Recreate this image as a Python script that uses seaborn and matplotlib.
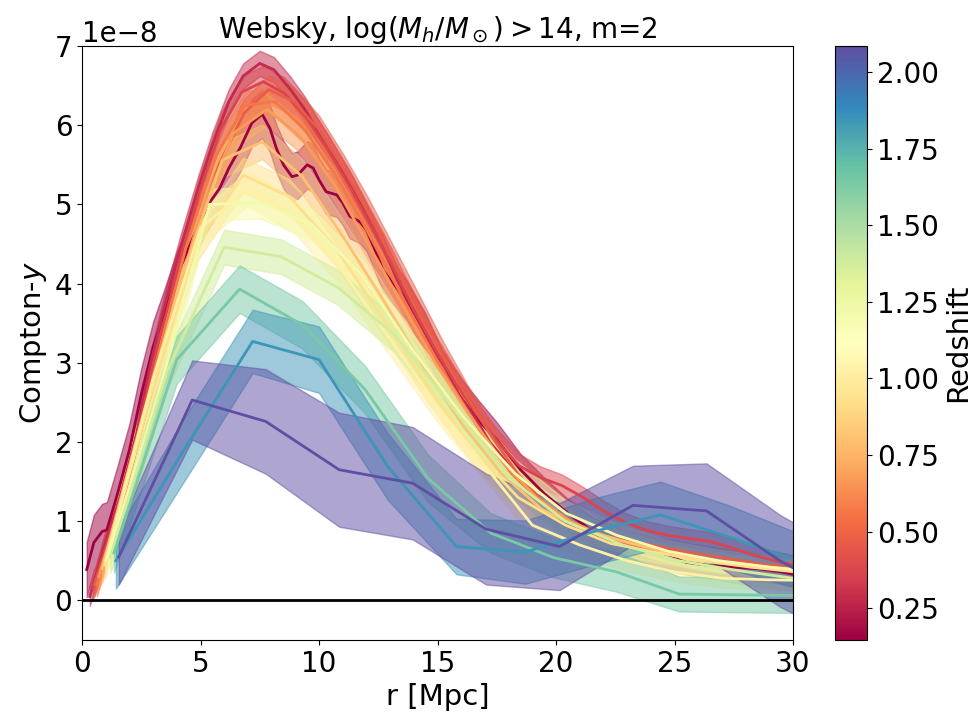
import numpy as np
import pandas as pd
import matplotlib
matplotlib.use("Agg")
import matplotlib.pyplot as plt
import seaborn as sns

# Redshift of each stacked profile
redshifts = [0.15, 0.28, 0.37, 0.47, 0.57, 0.67, 0.80, 0.92, 1.02, 1.20, 1.38, 1.64, 1.85, 2.08]

# r [Mpc], Compton-y (units of 1e-8), half-width of the shaded band (1e-8)
x_z015 = [0.2, 0.5, 0.85, 1.05, 1.5, 2.0, 2.5, 3.0, 3.5, 4.0, 4.5, 5.0, 5.4, 5.8, 6.2, 6.67, 7.17, 7.6,
          7.93, 8.2, 8.5, 8.86, 9.1, 9.5, 9.75, 10.0, 10.3, 10.75, 11.0, 11.3, 11.73, 12.0, 12.3, 12.7,
          13.0, 13.7, 14.5, 15.2, 16.0, 16.8, 17.5, 18.5, 19.5, 20.5, 21.5, 22.5, 23.5, 24.5, 25.5,
          26.5, 27.5, 28.5, 29.5, 30.0]
y_z015 = [0.39, 0.73, 0.87, 0.89, 1.35, 1.9, 2.6, 3.2, 3.65, 4.1, 4.45, 4.8, 5.03, 5.2, 5.46, 5.71,
          6.03, 6.14, 5.96, 5.71, 5.5, 5.35, 5.37, 5.5, 5.46, 5.31, 5.16, 5.12, 5.02, 4.85, 4.78, 4.68,
          4.47, 4.17, 4.05, 3.79, 3.37, 2.91, 2.55, 2.25, 2.03, 1.65, 1.35, 1.1, 0.88, 0.74, 0.65, 0.58,
          0.48, 0.44, 0.42, 0.4, 0.36, 0.33]
e_z015 = [0.35, 0.35, 0.35, 0.35, 0.35, 0.33, 0.33, 0.32, 0.3, 0.3, 0.3, 0.3, 0.3, 0.3, 0.3, 0.3,
          0.3, 0.3, 0.3, 0.3, 0.3, 0.3, 0.3, 0.3, 0.3, 0.28, 0.28, 0.28, 0.28, 0.28, 0.27, 0.27, 0.27,
          0.27, 0.27, 0.25, 0.25, 0.25, 0.25, 0.25, 0.22, 0.2, 0.2, 0.18, 0.18, 0.16, 0.16, 0.16, 0.15,
          0.15, 0.15, 0.15, 0.15, 0.15]

x_z028 = [0.33, 1.0, 1.6, 2.3, 2.9, 3.6, 4.2, 4.9, 5.5, 6.2, 6.8, 7.5, 8.1, 8.8, 9.4, 10.1, 10.7,
          11.4, 12.0, 12.7, 13.3, 14.0, 14.6, 15.3, 15.9, 16.6, 17.2, 17.9, 18.5, 19.2, 19.8, 20.5,
          21.8, 23.1, 24.4, 25.7, 27.0, 28.3, 29.6, 30.2]
y_z028 = [0.05, 0.75, 1.3, 2.1, 3.0, 3.85, 4.5, 5.2, 5.75, 6.3, 6.62, 6.78, 6.7, 6.45, 6.2, 5.85,
          5.55, 5.2, 4.85, 4.45, 4.05, 3.65, 3.3, 2.95, 2.6, 2.3, 2.0, 1.75, 1.5, 1.3, 1.15, 1.0, 0.82,
          0.7, 0.62, 0.55, 0.48, 0.42, 0.38, 0.36]
e_z028 = [0.12, 0.14, 0.15, 0.15, 0.15, 0.16, 0.16, 0.16, 0.16, 0.16, 0.16, 0.16, 0.16, 0.16, 0.16,
          0.16, 0.16, 0.16, 0.16, 0.16, 0.16, 0.16, 0.15, 0.15, 0.15, 0.14, 0.14, 0.13, 0.13, 0.12,
          0.12, 0.12, 0.11, 0.11, 0.1, 0.1, 0.1, 0.1, 0.1, 0.1]

x_z037 = [0.45, 1.35, 2.25, 3.15, 4.05, 4.95, 5.85, 6.75, 7.65, 8.55, 9.45, 10.35, 11.25, 12.15,
          13.05, 13.95, 14.85, 15.75, 16.65, 17.55, 18.45, 19.35, 20.25, 21.15, 22.05, 22.95, 23.85,
          24.75, 25.65, 26.55, 27.45, 28.35, 29.25, 30.15]
y_z037 = [0.15, 1.0, 2.0, 3.15, 4.2, 5.15, 5.95, 6.42, 6.55, 6.4, 6.1, 5.7, 5.25, 4.75, 4.25, 3.7,
          3.2, 2.75, 2.35, 2.0, 1.7, 1.55, 1.45, 1.3, 1.12, 0.98, 0.88, 0.82, 0.78, 0.74, 0.66, 0.57,
          0.5, 0.44]
e_z037 = [0.15, 0.15, 0.18, 0.2, 0.2, 0.2, 0.2, 0.2, 0.2, 0.2, 0.2, 0.2, 0.2, 0.2, 0.2, 0.2, 0.18,
          0.18, 0.16, 0.15, 0.15, 0.14, 0.14, 0.13, 0.13, 0.12, 0.12, 0.12, 0.12, 0.12, 0.12, 0.12,
          0.12, 0.12]

x_z047 = [0.53, 1.58, 2.63, 3.68, 4.73, 5.78, 6.83, 7.88, 8.93, 9.98, 11.03, 12.08, 13.13, 14.18,
          15.23, 16.28, 17.33, 18.38, 19.43, 20.48, 21.53, 22.58, 23.63, 24.68, 25.73, 26.78, 27.83,
          28.88, 29.93]
y_z047 = [0.2, 1.1, 2.3, 3.5, 4.6, 5.5, 6.15, 6.45, 6.3, 5.95, 5.45, 4.9, 4.3, 3.7, 3.1, 2.55, 2.05,
          1.6, 1.25, 1.0, 0.85, 0.78, 0.72, 0.66, 0.6, 0.55, 0.5, 0.45, 0.42]
e_z047 = [0.15, 0.16, 0.18, 0.18, 0.18, 0.18, 0.18, 0.18, 0.18, 0.18, 0.18, 0.18, 0.18, 0.18, 0.17,
          0.16, 0.15, 0.14, 0.13, 0.12, 0.12, 0.12, 0.12, 0.12, 0.12, 0.12, 0.12, 0.12, 0.12]

x_z057 = [0.63, 1.88, 3.13, 4.38, 5.63, 6.88, 8.13, 9.38, 10.63, 11.88, 13.13, 14.38, 15.63, 16.88,
          18.13, 19.38, 20.63, 21.88, 23.13, 24.38, 25.63, 26.88, 28.13, 29.38, 30.63]
y_z057 = [0.2, 1.5, 3.0, 4.45, 5.6, 6.25, 6.3, 5.95, 5.4, 4.75, 4.05, 3.35, 2.7, 2.1, 1.6, 1.25, 1.0,
          0.82, 0.7, 0.62, 0.55, 0.5, 0.45, 0.4, 0.36]
e_z057 = [0.15, 0.17, 0.18, 0.18, 0.18, 0.18, 0.18, 0.18, 0.18, 0.18, 0.18, 0.17, 0.16, 0.15, 0.14,
          0.13, 0.12, 0.12, 0.12, 0.12, 0.12, 0.12, 0.12, 0.12, 0.12]

x_z067 = [0.71, 2.13, 3.55, 4.97, 6.39, 7.81, 9.23, 10.65, 12.07, 13.49, 14.91, 16.33, 17.75, 19.17,
          20.59, 22.01, 23.43, 24.85, 26.27, 27.69, 29.11, 30.53]
y_z067 = [0.3, 1.75, 3.35, 4.85, 5.9, 6.2, 5.85, 5.25, 4.5, 3.75, 3.0, 2.35, 1.75, 1.3, 1.0, 0.82,
          0.7, 0.6, 0.52, 0.45, 0.4, 0.35]
e_z067 = [0.16, 0.18, 0.2, 0.2, 0.2, 0.2, 0.2, 0.2, 0.2, 0.19, 0.18, 0.17, 0.15, 0.14, 0.13, 0.12,
          0.12, 0.12, 0.12, 0.12, 0.12, 0.12]

x_z080 = [0.85, 2.54, 4.23, 5.92, 7.6, 9.3, 11.0, 12.7, 14.4, 16.1, 17.7, 19.4, 21.1, 22.8, 24.5,
          26.2, 27.9, 29.6, 31.3]
y_z080 = [0.4, 2.3, 4.1, 5.56, 5.79, 5.35, 4.6, 3.8, 2.95, 2.2, 1.6, 1.15, 0.9, 0.75, 0.62, 0.52,
          0.45, 0.4, 0.35]
e_z080 = [0.18, 0.2, 0.22, 0.22, 0.22, 0.22, 0.22, 0.21, 0.2, 0.18, 0.16, 0.14, 0.13, 0.12, 0.12,
          0.12, 0.12, 0.12, 0.12]

x_z092 = [0.97, 2.91, 4.85, 6.8, 8.74, 10.7, 12.6, 14.6, 16.5, 18.4, 20.4, 22.3, 24.3, 26.2, 28.2,
          30.1]
y_z092 = [0.45, 2.6, 4.5, 5.37, 5.1, 4.45, 3.6, 2.7, 1.9, 1.3, 0.95, 0.72, 0.6, 0.5, 0.42, 0.36]
e_z092 = [0.18, 0.2, 0.22, 0.22, 0.22, 0.22, 0.21, 0.2, 0.18, 0.15, 0.14, 0.13, 0.12, 0.12, 0.12,
          0.12]

x_z102 = [1.0, 3.0, 5.0, 7.0, 9.0, 11.0, 13.0, 15.0, 17.0, 19.0, 21.0, 23.0, 25.0, 27.0, 29.0, 31.0]
y_z102 = [0.5, 2.8, 4.7, 5.2, 4.85, 4.15, 3.3, 2.45, 1.7, 0.95, 0.7, 0.5, 0.36, 0.28, 0.26, 0.25]
e_z102 = [0.18, 0.2, 0.22, 0.22, 0.22, 0.22, 0.21, 0.2, 0.18, 0.15, 0.14, 0.13, 0.12, 0.12, 0.12,
          0.12]

x_z120 = [1.08, 3.23, 5.38, 7.53, 9.68, 11.83, 13.98, 16.13, 18.28, 20.43, 22.58, 24.73, 26.88,
          29.03, 31.18]
y_z120 = [0.55, 2.6, 5.0, 5.02, 4.75, 4.1, 3.15, 2.3, 1.6, 1.1, 0.82, 0.62, 0.5, 0.42, 0.36]
e_z120 = [0.2, 0.2, 0.2, 0.2, 0.2, 0.2, 0.2, 0.2, 0.18, 0.16, 0.15, 0.14, 0.14, 0.14, 0.14]

x_z138 = [1.2, 3.6, 6.0, 8.4, 10.8, 13.2, 15.6, 18.0, 20.4, 22.8, 25.2, 27.6, 30.0]
y_z138 = [0.55, 2.9, 4.46, 4.34, 3.95, 3.35, 2.45, 1.55, 1.0, 0.7, 0.5, 0.38, 0.28]
e_z138 = [0.2, 0.22, 0.22, 0.22, 0.22, 0.22, 0.22, 0.2, 0.18, 0.17, 0.16, 0.16, 0.16]

x_z164 = [1.35, 4.0, 6.65, 9.3, 11.95, 14.6, 17.25, 19.9, 22.55, 25.2, 27.85, 30.5]
y_z164 = [0.6, 3.04, 3.93, 3.48, 2.66, 1.54, 0.85, 0.54, 0.36, 0.08, 0.07, 0.06]
e_z164 = [0.25, 0.3, 0.3, 0.3, 0.3, 0.3, 0.25, 0.25, 0.25, 0.22, 0.22, 0.22]

x_z185 = [1.43, 4.3, 7.2, 10.0, 12.9, 15.8, 18.7, 21.6, 24.4, 27.3, 30.2]
y_z185 = [0.5, 1.9, 3.27, 3.04, 1.69, 0.68, 0.61, 0.87, 1.08, 0.8, 0.5]
e_z185 = [0.35, 0.4, 0.4, 0.42, 0.42, 0.35, 0.4, 0.42, 0.42, 0.4, 0.35]

x_z208 = [1.55, 4.65, 7.75, 10.85, 13.95, 17.05, 20.15, 23.25, 26.35, 29.45, 32.55]
y_z208 = [0.55, 2.53, 2.26, 1.65, 1.48, 0.9, 0.68, 1.2, 1.13, 0.5, 0.0]
e_z208 = [0.35, 0.5, 0.66, 0.72, 0.71, 0.7, 0.55, 0.5, 0.6, 0.58, 0.55]

profiles = [
    (x_z015, y_z015, e_z015), (x_z028, y_z028, e_z028), (x_z037, y_z037, e_z037),
    (x_z047, y_z047, e_z047), (x_z057, y_z057, e_z057), (x_z067, y_z067, e_z067),
    (x_z080, y_z080, e_z080), (x_z092, y_z092, e_z092), (x_z102, y_z102, e_z102),
    (x_z120, y_z120, e_z120), (x_z138, y_z138, e_z138), (x_z164, y_z164, e_z164),
    (x_z185, y_z185, e_z185), (x_z208, y_z208, e_z208),
]

plt.rcParams['font.family'] = ['DejaVu Sans']
plt.rcParams['mathtext.fontset'] = 'dejavusans'

fig = plt.figure(figsize=(9.8, 7.17), dpi=100)
ax = fig.add_axes([82 / 980, 77 / 717, 711 / 980, 594 / 717])
cax = fig.add_axes([835 / 980, 77 / 717, 32 / 980, 594 / 717])

cmap = plt.get_cmap('Spectral')
norm = matplotlib.colors.Normalize(vmin=0.146, vmax=2.085)
scale = 1e-8

for z, (xs, ys, es) in zip(redshifts, profiles):
    xs = np.asarray(xs)
    ys = np.asarray(ys) * scale
    es = np.asarray(es) * scale
    col = cmap(norm(z))
    ax.fill_between(xs, ys - es, ys + es, color=col, alpha=0.5, lw=1)
    df = pd.DataFrame({'r': xs, 'y': ys})
    sns.lineplot(data=df, x='r', y='y', color=col, lw=2, ax=ax, sort=False)

ax.axhline(0, color='black', lw=2)
ax.set_xlim(0, 30)
ax.set_ylim(-0.5e-8, 7e-8)
ax.set_xticks([0, 5, 10, 15, 20, 25, 30])
ax.set_yticks(np.arange(0, 8) * 1e-8)
ax.tick_params(labelsize=20)
ax.yaxis.get_offset_text().set_fontsize(20)
ax.set_xlabel('r [Mpc]', fontsize=21)
ax.set_ylabel('Compton-$y$', fontsize=21)
ax.set_title(r'Websky, $\log(M_h/M_\odot)>14$, m=2', fontsize=20)

sm = matplotlib.cm.ScalarMappable(norm=norm, cmap=cmap)
sm.set_array([])
cb = fig.colorbar(sm, cax=cax)
cb.set_ticks([0.25, 0.5, 0.75, 1.0, 1.25, 1.5, 1.75, 2.0])
cb.set_ticklabels(['0.25', '0.50', '0.75', '1.00', '1.25', '1.50', '1.75', '2.00'])
cb.ax.tick_params(labelsize=20)
cb.set_label('Redshift', fontsize=21)

fig.savefig('out.png', dpi=100)
